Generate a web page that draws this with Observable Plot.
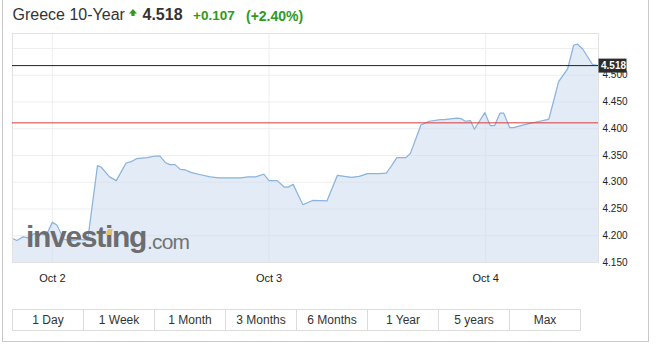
<!DOCTYPE html>
<html><head><meta charset="utf-8">
<script src="https://cdn.jsdelivr.net/npm/d3@7"></script>
<script src="https://cdn.jsdelivr.net/npm/@observablehq/plot@0.6"></script>
<style>
body{margin:0;background:#fff;font-family:"Liberation Sans",Arial,sans-serif;}
#wrap{position:relative;width:663px;height:352px;overflow:hidden;background:#fff;}
#outer{position:absolute;left:2px;top:-2px;width:647px;height:344px;border:1px solid #c9c9c9;box-sizing:border-box;}
#chart{position:absolute;left:0;top:0;}
.h{position:absolute;white-space:nowrap;line-height:1;}
#wm{position:absolute;left:26px;top:0;white-space:nowrap;pointer-events:none;}
.btn{position:absolute;top:309px;height:22px;box-sizing:border-box;border:1px solid #dcdcdc;font-size:12px;color:#333;text-align:center;line-height:20px;background:#fff;}
</style></head><body>
<div id="wrap">
  <div id="outer"></div>
  <div id="chart"></div>
  <div id="header"></div>
  <div id="wm"></div>
  <div id="buttons"></div>
</div>
<script>
// ---- data ----
const title = "Greece 10-Year";
const lastPriceText = "4.518";
const changeText = "+0.107";
const changePctText = "(+2.40%)";
const lastPrice = 4.518;
const prevClose = 4.411;
const times = [
 "2018-10-01 19:35","2018-10-01 20:05","2018-10-01 20:45","2018-10-01 21:20","2018-10-01 22:00","2018-10-01 23:00","2018-10-01 23:25",
 "2018-10-02 00:00","2018-10-02 00:30","2018-10-02 01:15","2018-10-02 02:00","2018-10-02 02:55","2018-10-02 03:55","2018-10-02 05:00",
 "2018-10-02 05:25","2018-10-02 06:20","2018-10-02 07:05","2018-10-02 08:10","2018-10-02 08:40","2018-10-02 09:20","2018-10-02 10:30",
 "2018-10-02 11:25","2018-10-02 11:55","2018-10-02 12:30","2018-10-02 13:00","2018-10-02 13:35","2018-10-02 14:10","2018-10-02 14:45",
 "2018-10-02 15:25","2018-10-02 16:25","2018-10-02 17:30","2018-10-02 18:25","2018-10-02 19:45","2018-10-02 20:50","2018-10-02 21:45",
 "2018-10-02 22:30","2018-10-02 23:25","2018-10-03 00:00","2018-10-03 00:55","2018-10-03 01:40","2018-10-03 02:10","2018-10-03 02:40",
 "2018-10-03 03:45","2018-10-03 04:50","2018-10-03 06:25","2018-10-03 07:35","2018-10-03 08:20","2018-10-03 09:10","2018-10-03 10:00",
 "2018-10-03 10:55","2018-10-03 12:10","2018-10-03 13:00","2018-10-03 13:30","2018-10-03 14:10","2018-10-03 15:10","2018-10-03 15:40",
 "2018-10-03 16:50","2018-10-03 17:45","2018-10-03 19:00","2018-10-03 19:25","2018-10-03 20:50","2018-10-03 21:15","2018-10-03 21:45",
 "2018-10-03 22:20","2018-10-03 22:45","2018-10-03 23:55","2018-10-04 00:30","2018-10-04 01:00","2018-10-04 01:35","2018-10-04 02:00",
 "2018-10-04 02:40","2018-10-04 03:05","2018-10-04 03:30","2018-10-04 04:40","2018-10-04 05:45","2018-10-04 06:50","2018-10-04 07:00",
 "2018-10-04 07:30","2018-10-04 08:05","2018-10-04 09:05","2018-10-04 09:45","2018-10-04 10:10","2018-10-04 10:45","2018-10-04 11:50",
 "2018-10-04 12:30"
];
const values = [
 4.195,4.191,4.198,4.196,4.204,4.202,4.204,
 4.225,4.220,4.194,4.190,4.193,4.192,4.331,
 4.328,4.310,4.303,4.336,4.338,4.344,4.346,
 4.349,4.349,4.337,4.333,4.333,4.324,4.323,
 4.318,4.314,4.310,4.308,4.308,4.308,4.310,
 4.310,4.315,4.303,4.303,4.291,4.291,4.296,
 4.258,4.266,4.265,4.313,4.311,4.309,4.311,
 4.316,4.316,4.317,4.329,4.346,4.346,4.354,
 4.407,4.414,4.417,4.417,4.420,4.419,4.414,
 4.415,4.399,4.430,4.406,4.406,4.429,4.429,
 4.402,4.402,4.404,4.409,4.413,4.417,4.418,
 4.450,4.488,4.512,4.556,4.558,4.549,4.520,
 4.518
];
const yDomain = [4.15, 4.578];
const yTickLabels = [4.15, 4.2, 4.25, 4.3, 4.35, 4.4, 4.45, 4.5];
const yGridLines = [4.15, 4.2, 4.25, 4.3, 4.35, 4.4, 4.45, 4.5, 4.55];
const xTickLabels = ["2018-10-02", "2018-10-03", "2018-10-04"];
const rangeButtons = ["1 Day", "1 Week", "1 Month", "3 Months", "6 Months", "1 Year", "5 years", "Max"];

// ---- build ----
const parseT = d3.utcParse("%Y-%m-%d %H:%M");
const parseD = d3.utcParse("%Y-%m-%d");
const data = times.map((t, i) => ({date: parseT(t), value: values[i]}));
const xTicks = xTickLabels.map(parseD);

// rectangular symbol for the last-price label box (28 x 14 px)
const labelBox = {draw(context) { context.rect(-14, -7, 28, 14); }};

const plot = Plot.plot({
  width: 663,
  height: 300,
  marginLeft: 12,
  marginRight: 65,
  marginTop: 33,
  marginBottom: 38,
  style: {fontFamily: "'Liberation Sans', Arial, sans-serif", fontSize: "10px", color: "#222", background: "transparent", overflow: "visible"},
  x: {type: "utc", domain: d3.extent(data, d => d.date)},
  y: {domain: yDomain},
  marks: [
    Plot.ruleY(yGridLines, {stroke: "#eeeeee"}),
    Plot.ruleX(xTicks, {stroke: "#eeeeee"}),
    Plot.areaY(data, {x: "date", y1: yDomain[0], y2: "value", fill: "#c8daee", fillOpacity: 0.5}),
    Plot.lineY(data, {x: "date", y: "value", stroke: "#8ab3de", strokeWidth: 1.2}),
    Plot.frame({stroke: "#e2e2e2"}),
    Plot.ruleY([prevClose], {stroke: "#d93a3a", strokeWidth: 1}),
    Plot.ruleY([lastPrice], {stroke: "#222", strokeWidth: 1}),
    Plot.axisY(yTickLabels, {anchor: "right", tickSize: 0, tickPadding: 4, tickFormat: d3.format(".3f"), label: null, fontSize: 10, color: "#222"}),
    Plot.axisX(xTicks, {anchor: "bottom", tickSize: 0, tickPadding: 12, tickFormat: d3.utcFormat("%b %-d"), label: null, fontSize: 11, color: "#222"}),
    Plot.dot([lastPrice], {y: d => d, frameAnchor: "right", dx: 14, symbol: labelBox, r: 5, fill: "#2b2b2b", stroke: "none"}),
    Plot.text([lastPrice], {y: d => d, text: d => d3.format(".3f")(d), frameAnchor: "right", textAnchor: "start", dx: 2.5, fill: "white", fontWeight: "bold", fontSize: 10})
  ]
});
document.getElementById("chart").appendChild(plot);

// header
const header = document.getElementById("header");
function addH(txt, left, top, size, weight, color) {
  const s = document.createElement("div");
  s.className = "h";
  s.textContent = txt;
  s.style.left = left + "px"; s.style.top = top + "px";
  s.style.fontSize = size + "px"; s.style.fontWeight = weight; s.style.color = color;
  header.appendChild(s);
  return s;
}
addH(title, 12.5, 7.2, 16, "normal", "#333");
addH(lastPriceText, 142.5, 7.2, 16, "bold", "#333");
addH(changeText, 193, 9.3, 13.5, "bold", "#2f9a1e");
addH(changePctText, 246, 8.9, 14, "bold", "#2f9a1e");
const arrow = document.createElementNS("http://www.w3.org/2000/svg", "svg");
arrow.setAttribute("width", 10); arrow.setAttribute("height", 10);
arrow.style.position = "absolute"; arrow.style.left = "128px"; arrow.style.top = "8px";
arrow.innerHTML = '<path d="M5 1 L9 5.5 L6.6 5.5 L6.6 8 L3.4 8 L3.4 5.5 L1 5.5 Z" fill="#2f9a1e"/>';
header.appendChild(arrow);

// watermark
const wm = document.getElementById("wm");
wm.innerHTML = '<span style="position:absolute;left:0;top:222px;font-size:30px;font-weight:bold;letter-spacing:-1.3px;color:#6c6d70;line-height:30px;">investing</span>' +
  '<span style="position:absolute;left:121px;top:231px;font-size:21px;letter-spacing:-0.8px;color:#737373;line-height:21px;">.com</span>' +
  '<span style="position:absolute;left:81px;top:229px;width:5px;height:6px;background:#e3bf6a;transform:skewX(-15deg);"></span>';

// buttons
const bc = document.getElementById("buttons");
rangeButtons.forEach((b, i) => {
  const d = document.createElement("div");
  d.className = "btn";
  d.textContent = b;
  d.style.left = (12 + i * 71) + "px";
  d.style.width = "72px";
  bc.appendChild(d);
});
</script>
</body></html>
